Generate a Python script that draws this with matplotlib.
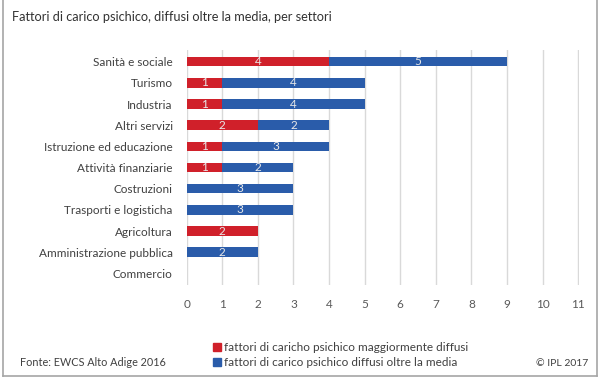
import numpy as np
import matplotlib
matplotlib.use('Agg')
import matplotlib.pyplot as plt
from matplotlib.lines import Line2D
from matplotlib.patches import Rectangle

plt.rcParams['font.family'] = ['Lato', 'DejaVu Sans']

settori = ['Sanità e sociale', 'Turismo', 'Industria', 'Altri servizi',
           'Istruzione ed educazione', 'Attività finanziarie', 'Costruzioni',
           'Trasporti e logisticha', 'Agricoltura', 'Amministrazione pubblica',
           'Commercio']
maggiormente = [4, 1, 1, 2, 1, 1, 0, 0, 2, 0, 0]
oltre_media = [5, 4, 4, 2, 3, 2, 3, 3, 0, 2, 0]
xticks = list(range(0, 12))

red = '#D0202A'
blue = '#2A5CAA'
grey_txt = '#595959'

fig = plt.figure(figsize=(6, 3.79), dpi=100)
ax = fig.add_axes([0.311, 0.248, 0.654, 0.62])

y = np.arange(len(settori))
h = 0.45
r = np.array(maggiormente)
b = np.array(oltre_media)
ax.barh(y, r, height=h, color=red, zorder=3)
ax.barh(y, b, left=r, height=h, color=blue, zorder=3)

for i in range(len(settori)):
    if r[i] > 0:
        ax.text(r[i] / 2, y[i], str(r[i]), ha='center', va='center',
                color='#e8e8e8', fontsize=8.5, zorder=4)
    if b[i] > 0:
        ax.text(r[i] + b[i] / 2, y[i], str(b[i]), ha='center', va='center',
                color='#e8e8e8', fontsize=8.5, zorder=4)

ax.set_xlim(0, 11.02)
ax.set_ylim(len(settori) - 0.45, -0.55)
ax.set_yticks(y)
ax.set_yticklabels(settori, fontsize=8.5, color='#404040')
ax.set_xticks(xticks)
ax.set_xticklabels([str(t) for t in xticks], fontsize=8.5, color=grey_txt)
ax.tick_params(axis='y', length=0, pad=10)
ax.tick_params(axis='x', length=0, pad=10)
for s in ax.spines.values():
    s.set_visible(False)
for t in xticks:
    ax.axvline(t, color='#d9d9d9', lw=1, zorder=1)

fig.text(12 / 600, 1 - 17 / 379, 'Fattori di carico psichico, diffusi oltre la media, per settori',
         fontsize=9.2, color='#333333', va='center')

handles = [Rectangle((0, 0), 1, 1, color=red), Rectangle((0, 0), 1, 1, color=blue)]
fig.legend(handles, ['fattori di caricho psichico maggiormente diffusi',
                     'fattori di carico psichico diffusi oltre la media'],
           loc='center left', bbox_to_anchor=(202 / 600, 1 - 355 / 379),
           frameon=False, fontsize=8.5, handlelength=0.7, handleheight=0.7,
           handletextpad=0.3, labelspacing=0.35, labelcolor='#404040')

fig.text(20 / 600, 1 - 363 / 379, 'Fonte: EWCS Alto Adige 2016', fontsize=7.8,
         color='#404040', va='center')
fig.text(588 / 600, 1 - 363 / 379, '© IPL 2017', fontsize=7.5,
         color='#404040', va='center', ha='right')

# cornice
for xs, ys in [([3, 3], [0, 376]), ([3, 597], [376, 376]), ([597, 597], [0, 376])]:
    fig.add_artist(Line2D([x / 600 for x in xs], [1 - v / 379 for v in ys],
                          color='#a6a6a6', lw=1.2))

fig.savefig('out.png', dpi=100)
